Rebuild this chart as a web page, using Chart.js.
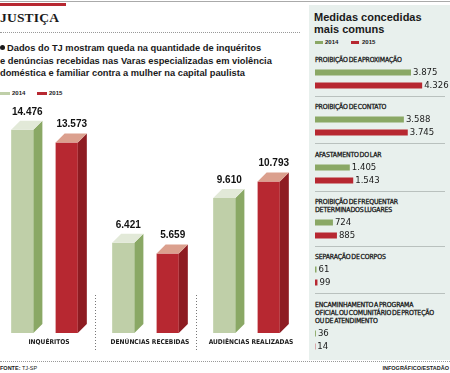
<!DOCTYPE html>
<html lang="pt-BR">
<head>
<meta charset="utf-8">
<script src="https://cdn.jsdelivr.net/npm/chart.js@4.4.0/dist/chart.umd.min.js"></script>
<style>
  html, body { margin: 0; padding: 0; }
  body { width: 450px; height: 373px; position: relative; overflow: hidden; background: #fff;
         font-family: "Liberation Sans", Arial, sans-serif; color: #1a1a1a; }
  .abs { position: absolute; white-space: nowrap; }
  .narrow { font-family: "Liberation Sans Narrow", "DejaVu Sans Condensed", "Liberation Sans", sans-serif; }
  #topline { left: 0; top: 1px; width: 450px; height: 1px; background: #aaa; }
  #redbar { left: 0; top: 3px; width: 66px; height: 3px; background: #b72831; }
  #title { left: 0; top: 10px; font: bold 13.5px "Liberation Serif", serif; letter-spacing: 0.2px; }
  #dots1 { left: 0; top: 32px; width: 300px; border-top: 1px dotted #999; }
  #lead { left: 0; top: 42px; font: bold 9.3px/12.5px "Liberation Sans", sans-serif; }
  #lead .dot { display: inline-block; width: 5px; height: 5px; border-radius: 50%; background: #1a1a1a; margin-right: 2px; vertical-align: 1px; }
  .sw { height: 3px; }
  .legtxt { font-size: 6px; font-weight: bold; line-height: 8px; }
  #panel { left: 309px; top: 5px; width: 141px; height: 355px; background: #e8f0ed; }
  #ptitle { left: 314px; top: 11px; font: bold 11px/12px "Liberation Sans", sans-serif; }
  .sep { height: 1px; background: #b9c1be; width: 130px; }
  .mlabel { font-size: 6.9px; line-height: 8px; color: #111; -webkit-text-stroke: 0.25px #111;
            letter-spacing: -0.15px; word-spacing: -1px; }
  #dots2 { left: 0; top: 361px; width: 450px; border-top: 1px dotted #999; }
  .foot { top: 364px; font-size: 5.5px; line-height: 8px; }
</style>
</head>
<body>
<div class="abs" id="topline"></div>
<div class="abs" id="redbar"></div>
<div class="abs" id="title">JUSTIÇA</div>
<div class="abs" id="dots1"></div>
<div class="abs" id="lead"><span class="dot"></span>Dados do TJ mostram queda na quantidade de inquéritos<br>e denúncias recebidas nas Varas especializadas em violência<br>doméstica e familiar contra a mulher na capital paulista</div>

<div class="abs sw" style="left:0;top:92px;width:10px;background:#bfcfa8"></div>
<div class="abs legtxt" style="left:12px;top:89px">2014</div>
<div class="abs sw" style="left:37px;top:92px;width:10px;background:#b72831"></div>
<div class="abs legtxt" style="left:49px;top:89px">2015</div>

<canvas id="casos" class="abs" width="303" height="252" style="left:-6px;top:100px"></canvas>

<div class="abs" id="panel"></div>
<div class="abs" id="ptitle">Medidas concedidas<br>mais comuns</div>
<div class="abs sw" style="left:315px;top:41px;width:8px;background:#8aa865"></div>
<div class="abs legtxt" style="left:325px;top:38px">2014</div>
<div class="abs sw" style="left:351px;top:41px;width:8px;background:#b72831"></div>
<div class="abs legtxt" style="left:362px;top:38px">2015</div>
<div id="medidasBox"></div>

<div class="abs" id="dots2"></div>
<div class="abs foot" style="left:0"><b>FONTE:</b> TJ-SP</div>
<div class="abs foot" style="right:1px"><b>INFOGRÁFICO/ESTADÃO</b></div>

<script>
// dados
const categorias = ['INQUÉRITOS', 'DENÚNCIAS RECEBIDAS', 'AUDIÊNCIAS REALIZADAS'];
const anos = ['2014', '2015'];
const casos2014 = [14476, 6421, 9610];
const casos2015 = [13573, 5659, 10793];

const medidas = [
  ['PROIBIÇÃO DE APROXIMAÇÃO'],
  ['PROIBIÇÃO DE CONTATO'],
  ['AFASTAMENTO DO LAR'],
  ['PROIBIÇÃO DE FREQUENTAR', 'DETERMINADOS LUGARES'],
  ['SEPARAÇÃO DE CORPOS'],
  ['ENCAMINHAMENTO A PROGRAMA', 'OFICIAL OU COMUNITÁRIO DE PROTEÇÃO', 'OU DE ATENDIMENTO']
];
const medidas2014 = [3875, 3588, 1405, 724, 61, 36];
const medidas2015 = [4326, 3745, 1543, 885, 99, 14];

const NARROW = '"Liberation Sans Narrow", "DejaVu Sans Condensed", "Liberation Sans", sans-serif';

function fmt(v) {
  return String(v).replace(/\B(?=(\d{3})+(?!\d))/g, '.');
}

// barras "3D" com face lateral e topo
const bars3d = {
  id: 'bars3d',
  afterDatasetsDraw(chart) {
    const ctx = chart.ctx;
    const d = 9;
    chart.data.datasets.forEach((ds, i) => {
      chart.getDatasetMeta(i).data.forEach((bar, j) => {
        const l = bar.x - bar.width / 2, r = bar.x + bar.width / 2;
        const t = bar.y, b = bar.base;
        ctx.save();
        ctx.fillStyle = ds.sideColor;
        ctx.beginPath();
        ctx.moveTo(r, t); ctx.lineTo(r + d, t - d); ctx.lineTo(r + d, b - d); ctx.lineTo(r, b);
        ctx.closePath(); ctx.fill();
        ctx.fillStyle = ds.topColor;
        ctx.beginPath();
        ctx.moveTo(l, t); ctx.lineTo(l + d, t - d); ctx.lineTo(r + d, t - d); ctx.lineTo(r, t);
        ctx.closePath(); ctx.fill();
        ctx.fillStyle = '#111';
        ctx.font = 'bold 10px "Liberation Sans", sans-serif';
        ctx.textAlign = 'center';
        ctx.textBaseline = 'middle';
        ctx.fillText(fmt(ds.data[j]), bar.x + 5, t - 18);
        ctx.restore();
      });
    });
  },
  afterDraw(chart) {
    const ctx = chart.ctx;
    const xs = chart.scales.x;
    const bottom = chart.chartArea.bottom;
    ctx.save();
    ctx.fillStyle = '#1a1a1a';
    ctx.font = 'bold 6.6px ' + NARROW;
    ctx.textAlign = 'center';
    ctx.textBaseline = 'middle';
    categorias.forEach((c, i) => {
      ctx.fillText(c, xs.getPixelForValue(i) + 4.5, bottom + 9);
    });
    // separadores pontilhados
    ctx.fillStyle = '#777';
    for (let i = 0; i < categorias.length - 1; i++) {
      const x = Math.round((xs.getPixelForValue(i) + xs.getPixelForValue(i + 1)) / 2);
      for (let y = bottom - 38; y < bottom + 18; y += 3) ctx.fillRect(x, y, 1, 1);
    }
    ctx.restore();
  }
};

new Chart(document.getElementById('casos'), {
  type: 'bar',
  data: {
    labels: categorias,
    datasets: [
      { label: anos[0], data: casos2014, backgroundColor: '#bfcfa8', sideColor: '#8aa865', topColor: '#e2e9d8' },
      { label: anos[1], data: casos2015, backgroundColor: '#b72831', sideColor: '#8e1c22', topColor: '#dba08e' }
    ]
  },
  options: {
    responsive: false,
    animation: false,
    categoryPercentage: 0.88,
    barPercentage: 0.5,
    layout: { padding: { top: 0, bottom: 19, left: 0, right: 0 } },
    plugins: { legend: { display: false }, tooltip: { enabled: false } },
    scales: {
      x: { display: false },
      y: { display: false, min: 0, max: 16600 }
    }
  },
  plugins: [bars3d]
});

// rótulos de valor nas barras horizontais
const valueLabels = {
  id: 'valueLabels',
  afterDatasetsDraw(chart) {
    const ctx = chart.ctx;
    const ds = chart.data.datasets[0];
    ctx.save();
    ctx.fillStyle = '#1a1a1a';
    ctx.font = '9.5px ' + NARROW;
    ctx.textAlign = 'left';
    ctx.textBaseline = 'middle';
    chart.getDatasetMeta(0).data.forEach((bar, j) => {
      ctx.fillText(fmt(ds.data[j]), bar.x + 2, bar.y + 0.5);
    });
    ctx.restore();
  }
};

const box = document.getElementById('medidasBox');
function addDiv(cls, left, top, html) {
  const el = document.createElement('div');
  el.className = 'abs ' + cls;
  el.style.left = left + 'px';
  el.style.top = top + 'px';
  if (html) el.textContent = html;
  box.appendChild(el);
  return el;
}

let y = 60;
medidas.forEach((linhas, i) => {
  linhas.forEach((txt, k) => addDiv('mlabel narrow', 315, y + k * 8 - 4, txt));
  const top = y + (linhas.length - 1) * 8 + 6;
  const cv = document.createElement('canvas');
  cv.className = 'abs';
  cv.width = 135; cv.height = 26;
  cv.style.left = '315px'; cv.style.top = top + 'px';
  box.appendChild(cv);
  new Chart(cv, {
    type: 'bar',
    data: {
      labels: anos,
      datasets: [{
        data: [medidas2014[i], medidas2015[i]],
        backgroundColor: ['#8aa865', '#b72831'],
        categoryPercentage: 1,
        barPercentage: 6 / 13
      }]
    },
    options: {
      indexAxis: 'y',
      responsive: false,
      animation: false,
      layout: { padding: 0 },
      plugins: { legend: { display: false }, tooltip: { enabled: false } },
      scales: {
        x: { display: false, min: 0, max: 5450 },
        y: { display: false }
      }
    },
    plugins: [valueLabels]
  });
  const sep = top + 26 + 4;
  if (i < medidas.length - 1) addDiv('sep', 315, sep);
  y = sep + 11.3;
});
</script>
</body>
</html>
